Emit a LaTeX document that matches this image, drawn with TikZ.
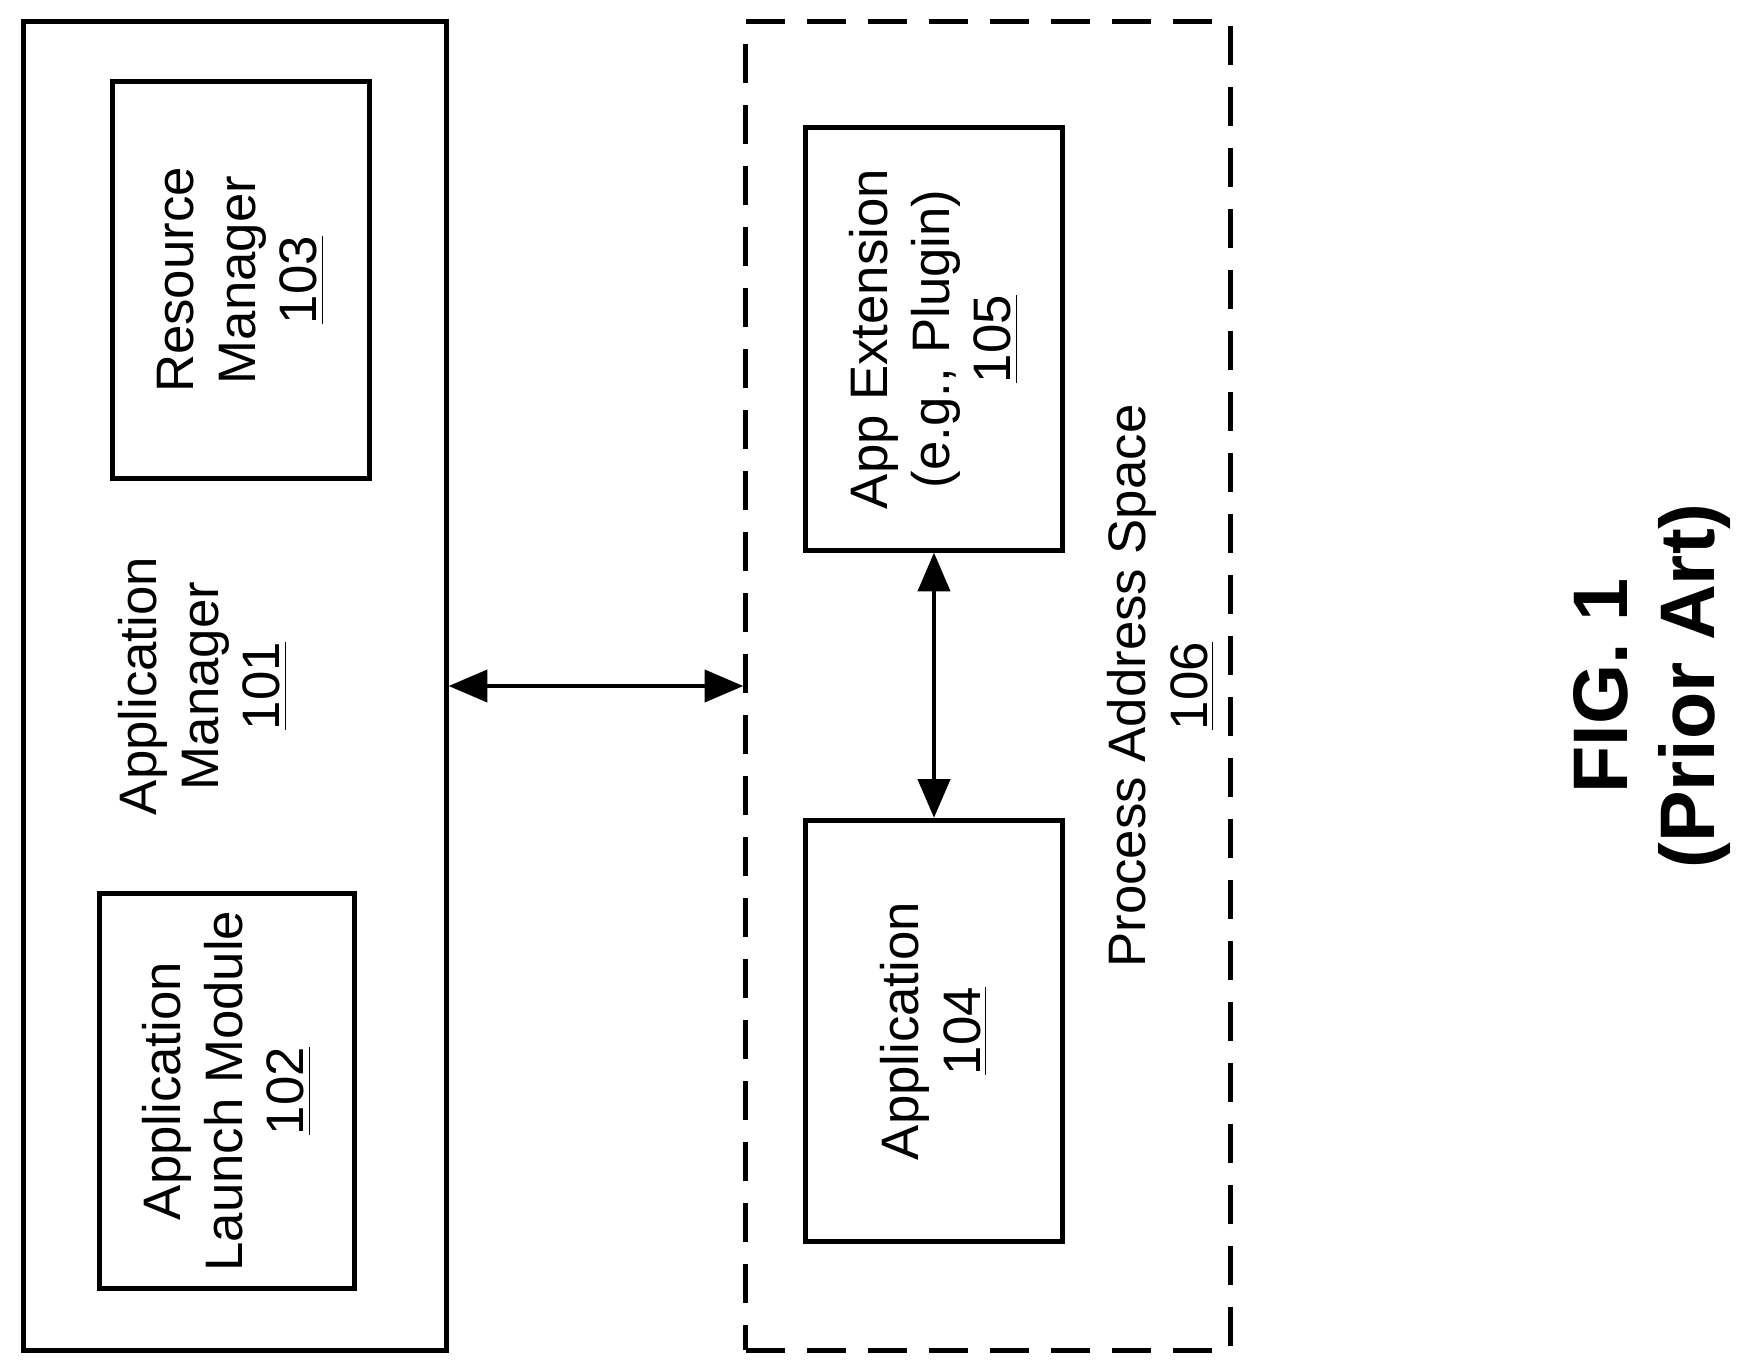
\documentclass[tikz,border=0pt]{standalone}
\usepackage{fontspec}
\setmainfont{Liberation Sans}
\usetikzlibrary{arrows.meta,positioning}
\begin{document}
\begin{tikzpicture}[x=0.01cm,y=-0.01cm,
   box/.style={draw,line width=1.4pt,inner sep=0pt},
   lbl/.style={rotate=90,align=center,font=\fontsize{15}{17.5}\selectfont},
   to/.style={{Triangle[length=11pt,width=9pt]}-{Triangle[length=11pt,width=9pt]},line width=1.4pt}]
\useasboundingbox (0,0) rectangle (1741,1366);
% left side
\node[box,minimum width=4.22cm,minimum height=13.28cm] (AM) at (235,686) {};
\node[box,minimum width=2.56cm,minimum height=3.97cm] (RM) at (241,280) {};
\node[box,minimum width=2.55cm,minimum height=3.94cm] (LM) at (227,1091) {};
\node[lbl] at (RM) {Resource\\Manager\\\underline{103}};
\node[lbl] at (LM) {Application\\Launch Module\\\underline{102}};
\node[lbl] at (203,686) {Application\\Manager\\\underline{101}};
% process address space
\node[box,dash pattern=on 0.39cm off 0.22cm,minimum width=4.84cm,minimum height=13.28cm] (PAS) at (988,686) {};
\node[box,minimum width=2.56cm,minimum height=4.22cm] (AE) at (934,339) {};
\node[box,minimum width=2.56cm,minimum height=4.21cm] (AP) at (934,1031) {};
\node[lbl] at (AE) {App Extension\\(e.g., Plugin)\\\underline{105}};
\node[lbl] at (AP) {Application\\\underline{104}};
\node[lbl] at (1161,686) {Process Address Space\\\underline{106}};
\node[rotate=90,align=center,font=\bfseries\fontsize{22}{25}\selectfont] (FIG) at (1652,686) {FIG. 1\\(Prior Art)};
% connectors
\draw[to] (AM.east) -- (PAS.west);
\draw[to] (AE.south) -- (AP.north);
\end{tikzpicture}
\end{document}
